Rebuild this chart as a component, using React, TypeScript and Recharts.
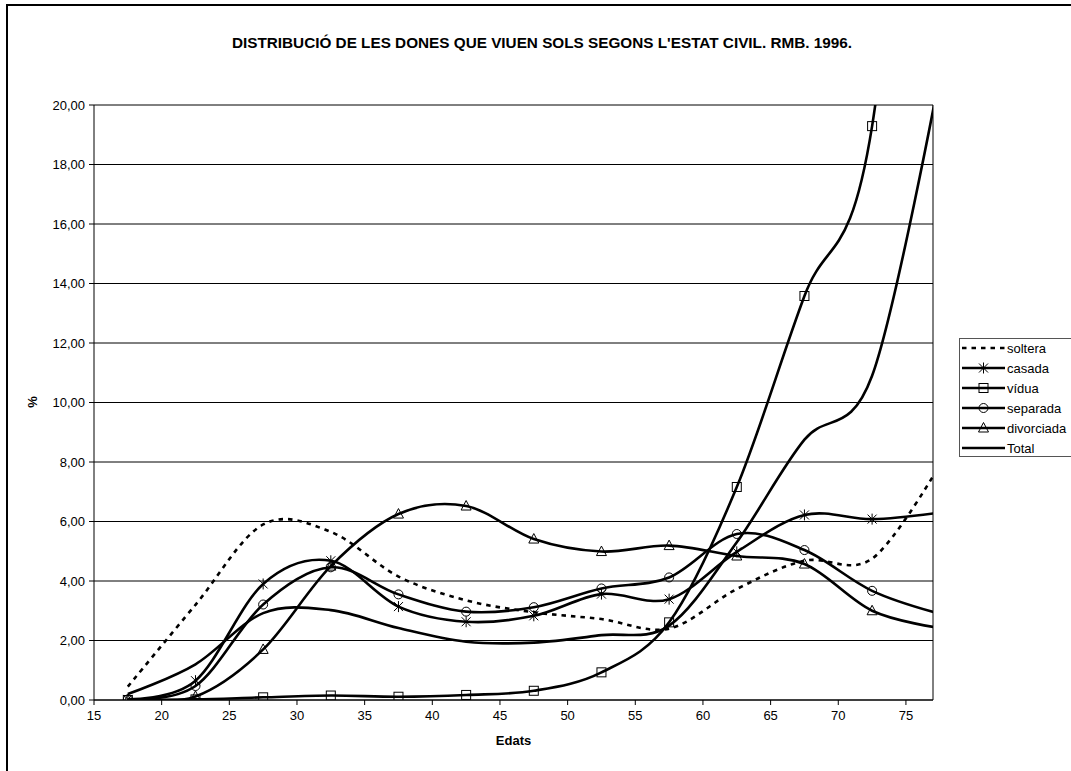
import React from "react";
import {
  LineChart,
  Line,
  XAxis,
  YAxis,
  CartesianGrid,
  Legend,
  ReferenceLine,
} from "recharts";

const FONT = '"Liberation Sans", Arial, sans-serif';
const TITLE =
  "DISTRIBUCIÓ DE LES DONES QUE VIUEN SOLS SEGONS L'ESTAT CIVIL. RMB. 1996.";

// age group centres (the last one lies past the right edge of the axis)
const ages = [17.5, 22.5, 27.5, 32.5, 37.5, 42.5, 47.5, 52.5, 57.5, 62.5, 67.5, 72.5, 77.5];
const soltera = [0.45, 3.2, 5.9, 5.65, 4.15, 3.35, 2.95, 2.72, 2.4, 3.73, 4.68, 4.75, 7.9];
const casada = [0.02, 0.65, 3.9, 4.68, 3.14, 2.63, 2.83, 3.56, 3.39, 4.98, 6.22, 6.08, 6.3];
const vidua = [0, 0.02, 0.09, 0.15, 0.11, 0.17, 0.31, 0.93, 2.61, 7.16, 13.58, 19.29, 42];
const separada = [0.02, 0.47, 3.21, 4.46, 3.55, 2.97, 3.12, 3.75, 4.12, 5.58, 5.04, 3.67, 2.9];
const divorciada = [0, 0.12, 1.7, 4.5, 6.25, 6.52, 5.41, 4.99, 5.19, 4.84, 4.57, 3.0, 2.42];
const total = [0.2, 1.2, 2.92, 3.02, 2.42, 1.96, 1.93, 2.18, 2.5, 5.3, 8.75, 10.9, 21];

const seriesOrder = ["soltera", "casada", "vidua", "separada", "divorciada", "total"];
const xTicks = [15, 20, 25, 30, 35, 40, 45, 50, 55, 60, 65, 70, 75];
const yTicks = [0, 2, 4, 6, 8, 10, 12, 14, 16, 18, 20];
const X_MIN = 15;
const X_MAX = 77;

const data = ages.map((age, i) => ({
  age,
  soltera: soltera[i],
  casada: casada[i],
  vidua: vidua[i],
  separada: separada[i],
  divorciada: divorciada[i],
  total: total[i],
}));

const seriesStyle: Record<string, { marker?: string; dash?: string }> = {
  soltera: { dash: "4.5 5" },
  casada: { marker: "star" },
  vidua: { marker: "square" },
  separada: { marker: "circle" },
  divorciada: { marker: "triangle" },
  total: {},
};

// Excel style smoothing: cardinal spline with tension 0 (Catmull-Rom)
class ExcelSmooth {
  _context: any;
  _k = 1 / 6;
  _line: number = NaN;
  _point = 0;
  _x0 = NaN; _x1 = NaN; _x2 = NaN;
  _y0 = NaN; _y1 = NaN; _y2 = NaN;
  constructor(context: any) {
    this._context = context;
  }
  areaStart() { this._line = 0; }
  areaEnd() { this._line = NaN; }
  lineStart() {
    this._x0 = this._x1 = this._x2 = this._y0 = this._y1 = this._y2 = NaN;
    this._point = 0;
  }
  lineEnd() {
    switch (this._point) {
      case 2: this._context.lineTo(this._x2, this._y2); break;
      case 3: this.bez(this._x1, this._y1); break;
    }
    if (this._line || (this._line !== 0 && this._point === 1)) this._context.closePath();
    this._line = 1 - this._line;
  }
  bez(x: number, y: number) {
    const k = this._k;
    this._context.bezierCurveTo(
      this._x1 + k * (this._x2 - this._x0),
      this._y1 + k * (this._y2 - this._y0),
      this._x2 + k * (this._x1 - x),
      this._y2 + k * (this._y1 - y),
      this._x2,
      this._y2
    );
  }
  point(x: number, y: number) {
    x = +x; y = +y;
    switch (this._point) {
      case 0:
        this._point = 1;
        if (this._line) this._context.lineTo(x, y);
        else this._context.moveTo(x, y);
        break;
      case 1:
        this._point = 2;
        this._x1 = x; this._y1 = y;
        break;
      case 2:
        this._point = 3;
        this.bez(x, y);
        break;
      default:
        this.bez(x, y);
        break;
    }
    this._x0 = this._x1; this._x1 = this._x2; this._x2 = x;
    this._y0 = this._y1; this._y1 = this._y2; this._y2 = y;
  }
}
const smooth = (context: any) => new ExcelSmooth(context);

const Marker = ({ kind, cx, cy }: { kind: string; cx: number; cy: number }) => {
  if (kind === "star") {
    return (
      <g stroke="#000" strokeWidth={1}>
        <line x1={cx - 4.5} y1={cy - 4.5} x2={cx + 4.5} y2={cy + 4.5} />
        <line x1={cx - 4.5} y1={cy + 4.5} x2={cx + 4.5} y2={cy - 4.5} />
        <line x1={cx} y1={cy - 5.5} x2={cx} y2={cy + 5.5} />
      </g>
    );
  }
  if (kind === "square") {
    return <rect x={cx - 4.5} y={cy - 4.5} width={9} height={9} fill="none" stroke="#000" strokeWidth={1} />;
  }
  if (kind === "circle") {
    return <circle cx={cx} cy={cy} r={4.5} fill="none" stroke="#000" strokeWidth={1} />;
  }
  return (
    <polygon
      points={`${cx},${cy - 5.5} ${cx + 5},${cy + 4} ${cx - 5},${cy + 4}`}
      fill="none"
      stroke="#000"
      strokeWidth={1}
    />
  );
};

const makeDot = (kind: string) => (props: any) => {
  const { cx, cy, payload, index } = props;
  if (cx == null || cy == null || payload.age > X_MAX) return <g key={`${kind}-${index}`} />;
  return (
    <g key={`${kind}-${index}`}>
      <Marker kind={kind} cx={cx} cy={cy} />
    </g>
  );
};

const LEGEND_W = 120;
const LEGEND_H = 119;

const renderLegend = (props: any) => {
  const payload = [...(props.payload || [])].sort(
    (a: any, b: any) => seriesOrder.indexOf(a.dataKey) - seriesOrder.indexOf(b.dataKey)
  );
  return (
    <svg width={LEGEND_W} height={LEGEND_H} style={{ display: "block" }}>
      <rect x={0.5} y={0.5} width={LEGEND_W - 1} height={LEGEND_H - 1} fill="#fff" stroke="#555" />
      {payload.map((entry: any, i: number) => {
        const s = seriesStyle[entry.dataKey] || {};
        const y = 10 + i * 20;
        return (
          <g key={entry.dataKey}>
            <line x1={3} x2={46} y1={y} y2={y} stroke="#000" strokeWidth={2.6} strokeDasharray={s.dash} />
            {s.marker && <Marker kind={s.marker} cx={24.5} cy={y} />}
            <text x={48} y={y} dominantBaseline="central" fontSize={13} fontFamily={FONT} fill="#000">
              {entry.value}
            </text>
          </g>
        );
      })}
    </svg>
  );
};

const fmt = (v: number) => v.toFixed(2).replace(".", ",");

export default function App() {
  const tick = { fill: "#000", fontSize: 13, fontFamily: FONT };
  return (
    <div
      style={{
        position: "fixed",
        left: 0,
        top: 0,
        width: 1071,
        height: 771,
        overflow: "hidden",
        background: "#fff",
        fontFamily: FONT,
      }}
    >
      <div
        style={{
          position: "absolute",
          left: 6,
          top: 4,
          width: 1100,
          height: 800,
          border: "2px solid #000",
          boxSizing: "border-box",
        }}
      />
      <div
        style={{
          position: "absolute",
          left: 7,
          top: 34,
          width: 1070,
          lineHeight: "18px",
          textAlign: "center",
          fontWeight: "bold",
          fontSize: 15.3,
          color: "#000",
        }}
      >
        {TITLE}
      </div>
      <div style={{ position: "absolute", left: 0, top: 0 }}>
        <LineChart width={1071} height={771} data={data} margin={{ top: 105, right: 138, bottom: 31, left: 0 }}>
          <CartesianGrid vertical={false} stroke="#000" strokeWidth={1} />
          <XAxis
            dataKey="age"
            type="number"
            domain={[X_MIN, X_MAX]}
            ticks={xTicks}
            allowDataOverflow
            height={40}
            tickSize={5}
            tickMargin={6}
            tick={tick}
            axisLine={{ stroke: "#000" }}
            tickLine={{ stroke: "#000" }}
            label={{
              content: (p: any) => {
                const vb = p.viewBox || { x: 94, y: 700, width: 839 };
                return (
                  <text
                    x={vb.x + vb.width / 2}
                    y={vb.y + 44.5}
                    textAnchor="middle"
                    fontWeight="bold"
                    fontSize={13}
                    fontFamily={FONT}
                    fill="#000"
                  >
                    Edats
                  </text>
                );
              },
            }}
          />
          <YAxis
            type="number"
            domain={[0, 20]}
            ticks={yTicks}
            allowDataOverflow
            width={94}
            tickSize={5}
            tickMargin={4}
            tick={tick}
            tickFormatter={fmt}
            axisLine={{ stroke: "#000" }}
            tickLine={{ stroke: "#000" }}
            label={{
              content: () => (
                <text
                  x={32}
                  y={402}
                  transform="rotate(-90 32 402)"
                  textAnchor="middle"
                  dominantBaseline="central"
                  fontWeight="bold"
                  fontSize={13}
                  fontFamily={FONT}
                  fill="#000"
                >
                  %
                </text>
              ),
            }}
          />
          <ReferenceLine x={X_MAX} stroke="#000" strokeWidth={1} />
          <Legend
            layout="vertical"
            align="center"
            verticalAlign="middle"
            content={renderLegend}
            wrapperStyle={{ left: 959, top: 338, width: LEGEND_W, height: LEGEND_H }}
          />
          <Line dataKey="soltera" name="soltera" type={smooth as any} stroke="#000" strokeWidth={2.6}
            strokeDasharray="4.5 5" dot={false} activeDot={false} isAnimationActive={false} />
          <Line dataKey="casada" name="casada" type={smooth as any} stroke="#000" strokeWidth={2.6}
            dot={makeDot("star")} activeDot={false} isAnimationActive={false} />
          <Line dataKey="vidua" name="vídua" type={smooth as any} stroke="#000" strokeWidth={2.6}
            dot={makeDot("square")} activeDot={false} isAnimationActive={false} />
          <Line dataKey="separada" name="separada" type={smooth as any} stroke="#000" strokeWidth={2.6}
            dot={makeDot("circle")} activeDot={false} isAnimationActive={false} />
          <Line dataKey="divorciada" name="divorciada" type={smooth as any} stroke="#000" strokeWidth={2.6}
            dot={makeDot("triangle")} activeDot={false} isAnimationActive={false} />
          <Line dataKey="total" name="Total" type={smooth as any} stroke="#000" strokeWidth={2.6}
            dot={false} activeDot={false} isAnimationActive={false} />
        </LineChart>
      </div>
    </div>
  );
}
